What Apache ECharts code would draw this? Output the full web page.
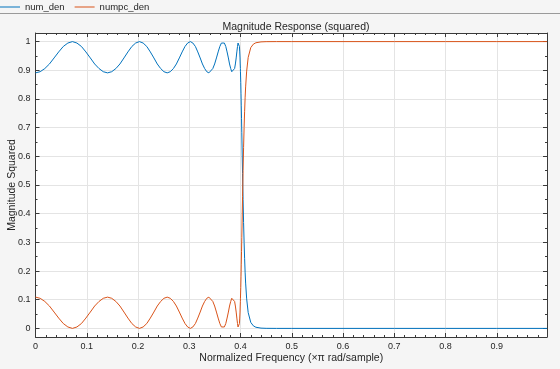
<!DOCTYPE html>
<html>
<head>
<meta charset="utf-8">
<script src="https://cdn.jsdelivr.net/npm/echarts@6/dist/echarts.min.js"></script>
<style>
  html, body { margin: 0; padding: 0; background: #f5f5f5; }
  #chart { width: 560px; height: 369px; }
</style>
</head>
<body>
<div id="chart"></div>
<script>
// ---- data ----
const freq = [
  0, 0.00908, 0.01815, 0.02720, 0.03625, 0.04524, 0.05423, 0.06314,
  0.07204, 0.08084, 0.08963, 0.09829, 0.10695, 0.11545, 0.12395, 0.13227,
  0.14059, 0.14871, 0.15683, 0.16473, 0.17263, 0.18031, 0.18799, 0.19541,
  0.20282, 0.20999, 0.21715, 0.22406, 0.23097, 0.23760, 0.24422, 0.25058,
  0.25693, 0.26300, 0.26907, 0.27487, 0.28066, 0.28617, 0.29167, 0.29689,
  0.30211, 0.30705, 0.31199, 0.31665, 0.32131, 0.32569, 0.33007, 0.33418,
  0.33828, 0.34211, 0.34594, 0.34950, 0.35306, 0.35636, 0.35966, 0.36270,
  0.36573, 0.36851, 0.37128, 0.37381, 0.37633, 0.37860, 0.38087, 0.38289,
  0.38491, 0.38669, 0.38847, 0.39001, 0.39154, 0.39284, 0.39413, 0.39519,
  0.39624, 0.39707, 0.39789, 0.39847, 0.39905, 0.39940, 0.39975, 0.39988,
  0.4,
  0.4005, 0.401, 0.4015, 0.402, 0.4025, 0.403, 0.404, 0.405, 0.406, 0.407,
  0.408, 0.409, 0.41, 0.412, 0.415, 0.42, 0.425, 0.43, 0.44, 0.45,
  0.47, 0.5, 0.6, 0.7, 0.8, 0.9, 0.998
];
const numDen = [
  0.891, 0.895, 0.906, 0.922, 0.943, 0.964, 0.983, 0.995,
  1.000, 0.995, 0.983, 0.964, 0.943, 0.922, 0.906, 0.895,
  0.891, 0.895, 0.906, 0.922, 0.943, 0.964, 0.983, 0.995,
  1.000, 0.995, 0.983, 0.964, 0.943, 0.922, 0.906, 0.895,
  0.891, 0.895, 0.906, 0.922, 0.943, 0.964, 0.983, 0.995,
  1.000, 0.995, 0.983, 0.964, 0.943, 0.922, 0.906, 0.895,
  0.891, 0.895, 0.906, 0.922, 0.943, 0.964, 0.983, 0.995,
  1.000, 0.995, 0.983, 0.964, 0.943, 0.922, 0.906, 0.895,
  0.891, 0.895, 0.906, 0.922, 0.943, 0.964, 0.983, 0.995,
  1.000, 0.995, 0.983, 0.964, 0.943, 0.922, 0.906, 0.895,
  0.891,
  0.857, 0.818, 0.776, 0.731, 0.684, 0.636, 0.540, 0.450, 0.369, 0.300,
  0.243, 0.196, 0.158, 0.103, 0.055, 0.021, 0.009, 0.004, 0.001, 0.0002,
  0, 0, 0, 0, 0, 0, 0
];
const numpcDen = [
  0.109, 0.105, 0.094, 0.078, 0.057, 0.036, 0.017, 0.005,
  0.000, 0.005, 0.017, 0.036, 0.057, 0.078, 0.094, 0.105,
  0.109, 0.105, 0.094, 0.078, 0.057, 0.036, 0.017, 0.005,
  0.000, 0.005, 0.017, 0.036, 0.057, 0.078, 0.094, 0.105,
  0.109, 0.105, 0.094, 0.078, 0.057, 0.036, 0.017, 0.005,
  0.000, 0.005, 0.017, 0.036, 0.057, 0.078, 0.094, 0.105,
  0.109, 0.105, 0.094, 0.078, 0.057, 0.036, 0.017, 0.005,
  0.000, 0.005, 0.017, 0.036, 0.057, 0.078, 0.094, 0.105,
  0.109, 0.105, 0.094, 0.078, 0.057, 0.036, 0.017, 0.005,
  0.000, 0.005, 0.017, 0.036, 0.057, 0.078, 0.094, 0.105,
  0.109,
  0.143, 0.182, 0.224, 0.269, 0.316, 0.364, 0.460, 0.550, 0.631, 0.700,
  0.757, 0.804, 0.842, 0.897, 0.945, 0.979, 0.991, 0.996, 0.999, 0.9998,
  1, 1, 1, 1, 1, 1, 1
];
const xTicks = [0, 0.1, 0.2, 0.3, 0.4, 0.5, 0.6, 0.7, 0.8, 0.9];
const xMinorTicks = [
  0.02, 0.04, 0.06, 0.08, 0.12, 0.14, 0.16, 0.18, 0.22, 0.24, 0.26, 0.28,
  0.32, 0.34, 0.36, 0.38, 0.42, 0.44, 0.46, 0.48, 0.52, 0.54, 0.56, 0.58,
  0.62, 0.64, 0.66, 0.68, 0.72, 0.74, 0.76, 0.78, 0.82, 0.84, 0.86, 0.88,
  0.92, 0.94, 0.96, 0.98
];
const yTicks = [0, 0.1, 0.2, 0.3, 0.4, 0.5, 0.6, 0.7, 0.8, 0.9, 1];
const yMinorTicks = [0.05, 0.15, 0.25, 0.35, 0.45, 0.55, 0.65, 0.75, 0.85, 0.95];
const seriesNames = ['num_den', 'numpc_den'];

// ---- chart ----
const FONT = '"Liberation Sans", Arial, Helvetica, sans-serif';
const TXT = '#262626';
const AX = '#3a3a3a';
const X_MIN = 0, X_MAX = 0.998, Y_MIN = -0.03, Y_MAX = 1.03;

function mkX(pos, ticks, len, showLine, labels, split) {
  const a = {
    type: 'value', position: pos, min: X_MIN, max: X_MAX,
    axisLine: { show: showLine, onZero: false, lineStyle: { color: AX, width: 1 } },
    axisTick: { show: true, inside: true, length: len, customValues: ticks, lineStyle: { color: AX, width: 1 } },
    axisLabel: labels ? { show: true, customValues: ticks, color: TXT, fontSize: 9, fontFamily: FONT, margin: 5 } : { show: false },
    splitLine: { show: split, lineStyle: { color: '#e4e4e4', width: 1 } }
  };
  if (labels) {
    a.name = 'Normalized Frequency (\u00d7\u03c0 rad/sample)';
    a.nameLocation = 'middle'; a.nameGap = 16; a.nameMoveOverlap = false;
    a.nameTextStyle = { color: TXT, fontSize: 10.5, fontFamily: FONT };
  }
  return a;
}
function mkY(pos, ticks, len, showLine, labels, split) {
  const a = {
    type: 'value', position: pos, min: Y_MIN, max: Y_MAX,
    axisLine: { show: showLine, onZero: false, lineStyle: { color: AX, width: 1 } },
    axisTick: { show: true, inside: true, length: len, customValues: ticks, lineStyle: { color: AX, width: 1 } },
    axisLabel: labels ? { show: true, customValues: ticks, color: TXT, fontSize: 9, fontFamily: FONT, margin: 5 } : { show: false },
    splitLine: { show: split, lineStyle: { color: '#e4e4e4', width: 1 } }
  };
  if (labels) {
    a.name = 'Magnitude Squared';
    a.nameLocation = 'middle'; a.nameGap = 18; a.nameMoveOverlap = false;
    a.nameTextStyle = { color: TXT, fontSize: 10.5, fontFamily: FONT };
  }
  return a;
}

const chart = echarts.init(document.getElementById('chart'), null, { renderer: 'canvas' });
chart.setOption({
  backgroundColor: '#f5f5f5',
  animation: false,
  textStyle: { fontFamily: FONT },
  title: {
    text: 'Magnitude Response (squared)',
    left: 291, top: 17, textAlign: 'center',
    textStyle: { color: TXT, fontSize: 10.5, fontWeight: 'normal', fontFamily: FONT }
  },
  legend: {
    data: seriesNames,
    left: 0, top: 2, padding: 0,
    itemWidth: 20, itemHeight: 1, itemGap: 10,
    icon: 'rect',
    itemStyle: { borderWidth: 0 },
    textStyle: { color: TXT, fontSize: 9.5, fontFamily: FONT }
  },
  graphic: [{
    type: 'line', shape: { x1: 0, y1: 13.5, x2: 560, y2: 13.5 },
    style: { stroke: '#9a9a9a', lineWidth: 1 }, silent: true
  }],
  grid: {
    left: 35.5, right: 13, top: 33, bottom: 32,
    containLabel: false, outerBoundsMode: 'none',
    show: true, backgroundColor: '#ffffff', borderWidth: 0
  },
  xAxis: [
    mkX('bottom', xTicks, 4, true, true, true),
    mkX('bottom', xMinorTicks, 2, false, false, false),
    mkX('top', xTicks, 4, true, false, false),
    mkX('top', xMinorTicks, 2, false, false, false)
  ],
  yAxis: [
    mkY('left', yTicks, 4, true, true, true),
    mkY('left', yMinorTicks, 2, false, false, false),
    mkY('right', yTicks, 4, true, false, false),
    mkY('right', yMinorTicks, 2, false, false, false)
  ],
  series: [
    {
      name: seriesNames[0], type: 'line', xAxisIndex: 0, yAxisIndex: 0,
      data: freq.map((f, i) => [f, numDen[i]]),
      showSymbol: false, symbol: 'none',
      lineStyle: { color: '#0072BD', width: 1 }, itemStyle: { color: '#0072BD' }
    },
    {
      name: seriesNames[1], type: 'line', xAxisIndex: 0, yAxisIndex: 0,
      data: freq.map((f, i) => [f, numpcDen[i]]),
      showSymbol: false, symbol: 'none',
      lineStyle: { color: '#D95319', width: 1 }, itemStyle: { color: '#D95319' }
    }
  ]
});
</script>
</body>
</html>
